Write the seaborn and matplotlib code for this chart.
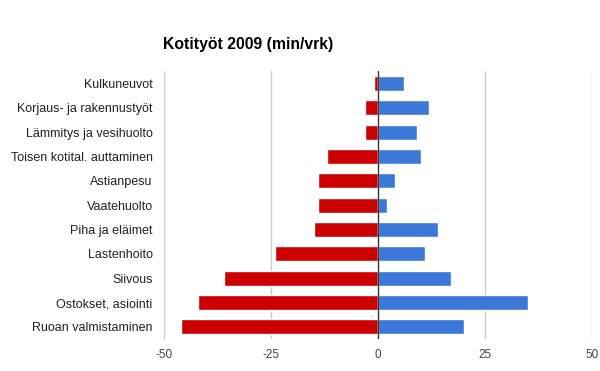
import matplotlib
matplotlib.use("Agg")
import matplotlib.pyplot as plt
import seaborn as sns
import pandas as pd

categories = ["Kulkuneuvot", "Korjaus- ja rakennustyöt", "Lämmitys ja vesihuolto",
              "Toisen kotital. auttaminen", "Astianpesu", "Vaatehuolto",
              "Piha ja eläimet", "Lastenhoito", "Siivous", "Ostokset, asiointi",
              "Ruoan valmistaminen"]
red_values = [-1, -3, -3, -12, -14, -14, -15, -24, -36, -42, -46]
blue_values = [6, 12, 9, 10, 4, 2, 14, 11, 17, 35, 20]
x_ticks = [-50, -25, 0, 25, 50]

sns.set_theme(style="white")
plt.rcParams['font.family'] = ['Liberation Sans', 'DejaVu Sans']

df_red = pd.DataFrame({"cat": categories, "val": red_values})
df_blue = pd.DataFrame({"cat": categories, "val": blue_values})

fig = plt.figure(figsize=(6, 3.71), dpi=100)
ax = fig.add_axes([0.273, 0.086, 0.714, 0.722])

for xv in x_ticks:
    if xv != 0:
        ax.axvline(xv, color="#cccccc", lw=1, zorder=0)

sns.barplot(data=df_red, y="cat", x="val", orient="h", color="#cc0000",
            width=0.62, saturation=1, ax=ax, zorder=2)
sns.barplot(data=df_blue, y="cat", x="val", orient="h", color="#3c78d8",
            width=0.62, saturation=1, ax=ax, zorder=2)
ax.axvline(0, color="#333333", lw=1, zorder=3)

ax.set_xlim(-50, 50)
ax.set_ylim(10.5, -0.5)
ax.set_xticks(x_ticks)
ax.set_xticklabels([str(v) for v in x_ticks])
ax.set_xlabel("")
ax.set_ylabel("")
for s in ax.spines.values():
    s.set_visible(False)
ax.tick_params(axis="y", length=0, pad=8, labelsize=9, labelcolor="#222222")
ax.tick_params(axis="x", length=0, pad=7, labelsize=8.5, labelcolor="#444444")

fig.text(163/600, 1 - 45/371, "Kotityöt 2009 (min/vrk)", fontsize=11.3,
         fontweight="bold", ha="left", va="center", color="#000000")

fig.savefig("out.png", dpi=100)
